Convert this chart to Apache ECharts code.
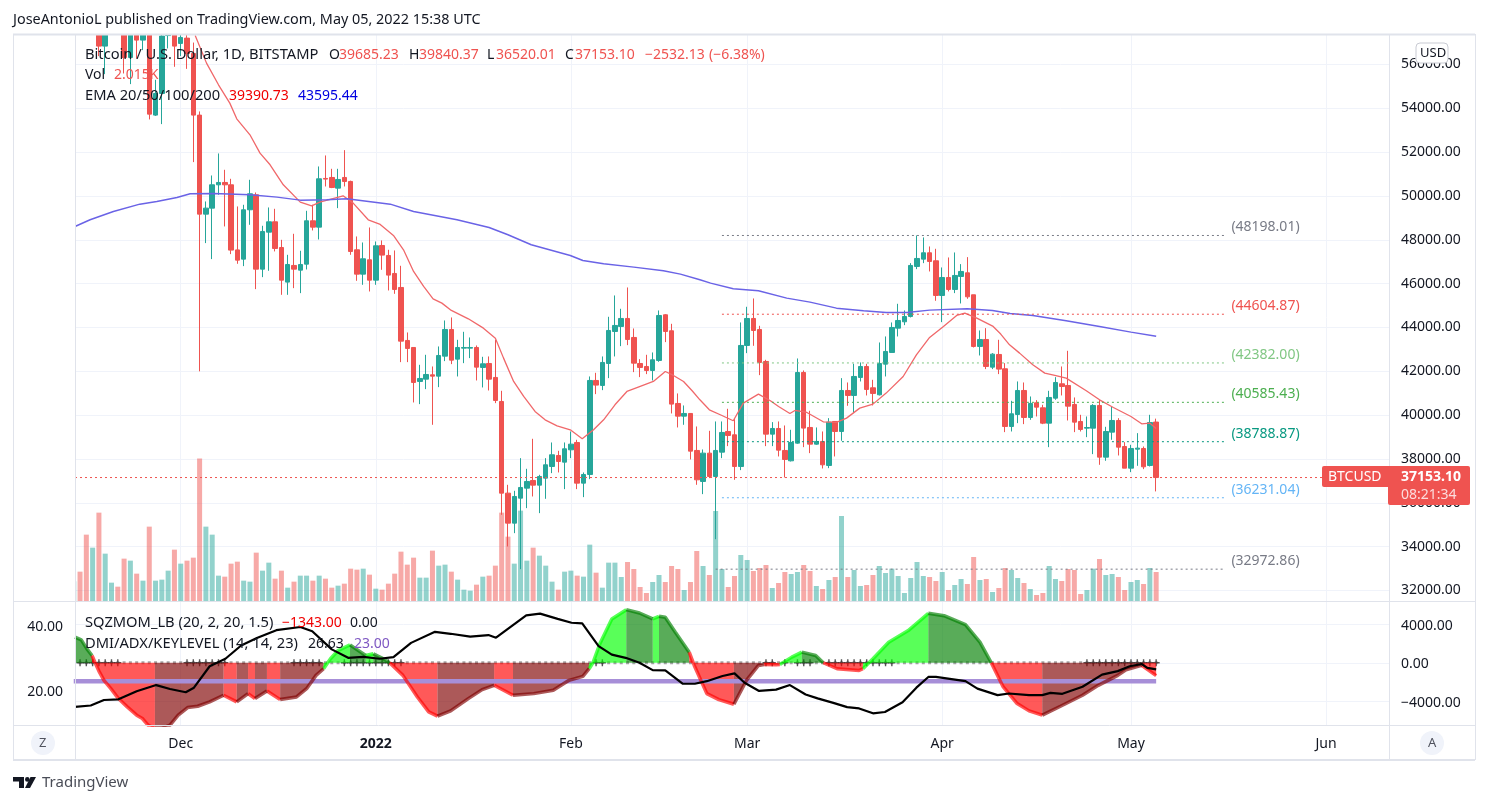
<!DOCTYPE html>
<html>
<head>
<meta charset="utf-8">
<title>BTCUSD</title>
<style>
html,body{margin:0;padding:0;background:#fff;}
#main{width:1488px;height:804px;}
</style>
<script src="https://cdn.jsdelivr.net/npm/echarts@6/dist/echarts.min.js"></script>
</head>
<body>
<div id="main"></div>
<script>
// day numbers count from 14 Nov 2021 (day 0), one candle per day up to 5 May 2022 (day 172)
var opens = [
64400,65500,63600,60100,60400,56838,58100,59700,58700,56321,57500,57112,58900,53690,54678,57320,57800,56960,57203,56504,
53690,49172,49446,50510,50617,50510,47540,47119,49370,50054,46662,48350,48822,47650,46070,46830,46617,46890,48868,48579,
50800,50845,50358,50845,50663,47545,46434,47088,46160,47742,47286,46465,45826,43408,43088,41537,41643,41840,41780,42693,
43910,42556,43058,43058,43088,42176,42358,41720,40624,36441,35073,36213,36670,37020,36806,37126,37658,38160,37856,38419,
38753,36898,37293,41583,41355,42358,43818,44047,44412,43545,42358,42221,42039,42495,44579,43849,40533,39955,40077,38389,
36974,38267,37202,38312,39255,39103,37658,43180,44412,43910,42450,39134,39392,38389,37917,38723,41947,39438,38677,38800,
37704,39712,39255,41126,40898,41720,42221,41248,40929,42328,42860,43970,44260,44503,46784,47119,47408,47043,45461,46282,
45735,46328,46495,45492,43134,43453,42191,42769,42115,39483,40031,41126,39894,40563,40335,39635,40776,41430,41354,40487,
39711,39407,39407,40442,38084,39225,39757,38570,37582,38449,38479,37704,39685.23];
var closes = [
65500,63600,60100,60400,56838,58100,59700,58700,56321,57500,57112,58900,53735,54678,57300,57800,56838,57234,56504,53690,
49172,49446,50510,50617,50510,47530,47073,49370,50100,46662,48381,48822,47605,46160,46875,46662,46875,48868,48579,50784,
50770,50389,50754,50663,47468,46434,47134,46160,47727,47302,46389,45735,43377,43043,41491,41674,41856,41780,42723,43910,
42510,43088,43088,43088,42191,42343,41643,40670,36441,35073,36289,36700,36974,36806,37202,37734,38191,37886,38464,38677,
36898,37293,41583,41370,42404,43864,44092,44412,43453,42373,42176,42039,42525,44548,43818,40503,39955,40077,38358,37050,
38267,37202,38389,39210,39073,37658,43180,44412,43864,42404,39134,39392,38404,37978,38753,41947,39408,38677,38800,37734,
39681,39255,41126,40898,41765,42221,41172,40990,42358,42906,44001,44320,44503,46830,47149,47408,47012,45461,46282,45735,
46374,46556,45400,43134,43453,42221,42784,42100,39483,40061,41126,39894,40533,40365,39635,40807,41491,41308,40411,39681,
39346,39437,40442,38084,39255,39757,38540,37582,38479,38495,37643,39665,37153.10];
var lows = [
63600,63400,58600,58400,56382,55560,57900,57900,55590,55104,56275,56655,53492,53650,53279,56732,55895,56382,55800,51545,
42000,47850,47120,50054,48610,47347,46906,46800,48685,45750,46297,46587,47470,45490,45490,45795,45567,46647,48427,48016,
50434,50358,49446,50434,47316,46130,45947,45643,45947,46632,45689,45537,42419,42419,40579,40503,41187,39560,41278,42465,
42328,41765,42373,42602,41583,41263,41126,40548,35453,34008,34616,32973,35757,36289,35529,36183,37354,37385,36624,38038,
36624,36259,37080,40959,41141,41689,42678,43149,43195,41963,41735,41872,41583,42434,43332,40077,39438,39560,37978,36822,
36396,37126,34340,38039,38586,37050,37491,42830,43164,41826,38586,38586,38115,37157,37887,38692,38540,38267,38647,37567,
37582,38115,38830,40427,40092,41537,40898,40442,40898,41765,42860,43590,44107,44457,46663,46936,46556,45218,44244,45644,
45568,45096,45309,43088,42723,42100,42100,41872,39225,39255,39635,39590,39787,39940,39590,38540,40700,40898,39757,39225,
39255,38996,38221,37734,37917,38875,38160,37582,37399,37688,37537,37658,36520.01];
var highs = [
65900,66300,63600,60800,60900,58400,60000,60000,59100,57900,58000,59400,59100,55300,57500,58800,59100,59000,57600,57000,
53857,49750,50936,51940,51195,50784,49522,49598,50739,50160,48640,49476,49415,48000,47316,48275,47500,49324,49598,51347,
51849,51240,51240,52092,50700,48153,47879,48563,47925,47971,47545,47514,46815,43773,43088,42297,42754,42221,43134,44320,
44457,43438,43803,43545,43180,42662,42678,43438,41111,36822,36548,38038,37552,38921,37278,38038,38753,38373,38753,39255,
38875,37385,41765,41932,42678,44488,45461,44853,45826,43955,42556,42754,42860,44777,44610,44168,40990,40442,40077,39483,
38434,39286,39712,39712,40290,39833,44229,44944,45324,44077,42526,39682,39712,39529,39331,42586,42039,40199,39438,39255,
39864,39712,41689,41491,42343,42404,42343,41613,43316,43590,44229,45081,44777,46936,48198.01,48108,47697,47590,46739,47195,
47423,46891,47210,45492,43864,43970,42830,43438,42373,40654,41537,41491,40852,40685,40472,41111,41734,42221,42936,40807,
40016,39940,40502,40700,39468,40380,39863,38768,38647,39179,38570,40016,39840.37];
var volumes = [
1367,2039,4611,3707,6140,3290,1274,996,2943,2804,1900,1413,5167,1413,1483,2108,3568,2595,2804,3012,
9894,5167,4611,1761,1691,2595,2734,1413,1344,3360,2108,2665,1552,2108,927,1344,1761,1761,1413,1761,
1552,927,1066,1205,2247,2178,2247,1830,857,788,1205,1900,3429,2526,3012,1622,1622,3499,2456,2526,
2039,1483,788,718,1135,1691,1761,2456,6140,4472,2595,6279,2804,3707,3151,2456,1344,788,2039,2108,
1761,1691,3916,1969,927,2665,2665,1668,2711,2224,973,556,1321,1807,1321,2433,2224,765,1321,3476,
2433,1807,6256,2224,973,1738,3197,2850,2085,2294,2502,904,1251,2016,1877,2016,2502,2085,1043,834,
1460,1668,5908,1668,2155,1043,1112,1807,2433,1946,2247,1738,556,1599,2711,1738,1668,1390,2016,765,
1112,1529,1182,3058,1460,1529,626,904,2294,2155,1599,1251,834,417,556,2433,1529,1390,2224,2155,
487,765,2247,2919,1807,1877,1668,765,1321,1460,1182,2294,2015];

// [day, value] vertices
var ema20 = [[19.3,57325],[21.1,56062],[23,55073],[24.8,54237],[25.9,53522],[28,52792],[29.6,51955],[31.2,51423],[33.3,50510],[36,49720],[37.8,49552],[39.1,49720],[42.8,50009],[44.4,49674],[46.8,48913],[48.7,48700],[50.8,48199],[52.4,47545],[54,46556],[55.6,45872],[57.1,45309],[58.5,45111],[60,44777],[62.7,44396],[65.1,43970],[67,43514],[68.3,42602],[69.9,41537],[71.5,40853],[73.3,40168],[74.9,39788],[76.8,39514],[78.9,39332],[80.8,38921],[82.6,39332],[84.2,39788],[86,40472],[87.9,41081],[89.7,41278],[92.1,41537],[94,41993],[95.3,41811],[96.9,41537],[98.3,41100],[99.5,40700],[101,40244],[103,39985],[104.8,39743],[106.4,40548],[108.8,40959],[110.7,40655],[112,40396],[113.8,40077],[114.6,40214],[116.5,40123],[119.1,39697],[121.2,39666],[122.8,39864],[124.9,40320],[127,40503],[129.1,41005],[131.8,41765],[133.9,42754],[136,43545],[138.2,44047],[140.3,44548],[141.6,44655],[143.5,44427],[146.1,44047],[147.3,43700],[148.7,43210],[150.3,42830],[152.4,42297],[154.3,41917],[155.9,41810],[157.7,41689],[160.9,41111],[163,40700],[165.2,40350],[168,39940],[169.7,39605],[171,39635],[172,39390.73]];
var ema200 = [[0.2,48609],[2.6,48913],[6.3,49294],[10.5,49628],[13.2,49750],[16.4,49933],[18.5,50100],[22.2,50115],[28,50054],[32.3,49948],[36,49811],[40.2,49826],[43.4,49872],[50.3,49628],[54,49294],[60.9,48914],[66,48564],[69,48229],[72.7,47773],[78.9,47286],[80.9,47058],[84.2,46906],[89,46754],[93.7,46587],[96.4,46435],[99.5,46176],[101.2,46024],[104.8,45765],[108.8,45674],[113.3,45340],[117,45157],[121.2,44883],[125.5,44761],[129.1,44685],[132.4,44685],[136,44792],[142,44853],[146,44777],[148.8,44640],[152.4,44548],[157.7,44305],[163,44046],[168,43788],[172,43595.44]];

// squeeze momentum, split by colour of the histogram; null breaks a run
var momLime = [[39.7,-623],[40.8,415],[42,1280],[43.9,1868],[43.9,null],[46.4,761],[47.6,934],[47.6,null],[81.9,-623],[82.5,0],[83.6,1972],[85.5,4567],[87.8,5536],[87.8,null],[92,4567],[93,4844],[93,null],[112.2,-173],[114.1,588],[115.7,1107],[115.7,null],[125.4,-623],[127,415],[129.5,2145],[132.6,3356],[135.8,5155]];
var momGreen = [[0.2,2664],[1.2,2387],[2.1,1453],[2.9,761],[2.9,null],[43.9,1868],[46.4,761],[46.4,null],[47.6,934],[48.9,519],[50.2,0],[50.2,null],[87.8,5536],[89.9,5190],[92,4567],[92,null],[93,4844],[94,4740],[95.6,3183],[97.8,1107],[97.8,null],[115.7,1107],[117.9,761],[119.1,0],[119.1,null],[135.8,5155],[138.3,4913],[141.7,3979],[144,2145],[145.8,0]];
var momRed = [[2.9,761],[3.4,0],[4,-865],[4.8,-1834],[5.9,-2699],[7.1,-3737],[8.5,-4602],[10,-5467],[10.9,-5813],[11.8,-6505],[12.9,-6851],[12.9,null],[23.8,-3391],[25.9,-4083],[25.9,null],[27.7,-3218],[28.8,-3737],[28.8,null],[30.7,-2941],[32.8,-3841],[32.8,null],[50.2,0],[52.3,-1315],[54.6,-3564],[56.4,-5121],[57.8,-5571],[57.8,null],[66.8,-2353],[69.8,-3391],[69.8,null],[97.8,1107],[98.6,-277],[100.6,-3218],[102.5,-3841],[104.9,-4325],[104.9,null],[109.7,-173],[111.6,-200],[112.2,-173],[112.2,null],[119.1,0],[121.3,-623],[124.8,-796],[125.4,-623],[125.4,null],[145.8,0],[147.7,-2526],[149.9,-4256],[151.8,-5017],[153.9,-5467],[153.9,null],[169.7,-277],[172,-1343]];
var momMaroon = [[12.9,-6851],[14,-6851],[15.3,-6505],[16.6,-5467],[18.1,-4671],[19.7,-4533],[21.6,-4083],[23.8,-3391],[23.8,null],[25.9,-4083],[27.7,-3218],[27.7,null],[28.8,-3737],[30.7,-2941],[30.7,null],[32.8,-3841],[35.4,-3564],[37,-2699],[38.5,-1315],[39.7,-623],[39.7,null],[57.8,-5571],[59.9,-5017],[62.7,-3737],[64.9,-2803],[66.8,-2353],[66.8,null],[69.8,-3391],[73.1,-3218],[76.2,-2872],[78.7,-1834],[80.9,-1419],[81.9,-623],[81.9,null],[104.9,-4325],[106.9,-1834],[108.8,-277],[109.7,-173],[109.7,null],[153.9,-5467],[156.8,-4533],[160.3,-3391],[162.8,-2353],[165.9,-1315],[167.2,-727],[169.7,-277]];

// ADX, read against the left axis of the lower pane
var adx = [[0.2,15.1],[2.7,15.5],[4.8,17.2],[7.1,17.4],[10,19.9],[13.1,21.8],[15.3,20.6],[17.8,19.6],[19.1,21],[21.6,27.6],[24.1,29.9],[26.6,34],[29.1,36.3],[32.2,38.7],[36,39.7],[37.9,38.4],[41,32.8],[43.6,30.2],[46,30.5],[48.6,29.9],[50.8,30.4],[53.6,34.8],[57.4,38.2],[59.9,37.6],[63,36.7],[65.9,37.2],[67.1,36.4],[71.9,43.3],[74.1,43.8],[76.9,42.2],[79.1,41],[80.8,40.8],[83.4,33.8],[85.5,31.2],[87.7,30.2],[89.9,28.7],[92,26.4],[94,26.3],[96.8,22.2],[98.7,22.2],[100.6,23],[103.1,24.6],[105,25.4],[106.6,22.5],[108.9,20],[111.6,20.4],[113.8,21.8],[116.3,18.9],[118.2,17.7],[120.7,16.3],[122.9,15],[124.8,14.6],[127,13.1],[128.9,13.5],[131.7,16.5],[133.9,21],[135.8,24.3],[137,24.3],[141.7,23],[143.6,20.7],[146.8,18.7],[148.6,19.2],[151.8,18.7],[153.9,18.7],[155.2,19.4],[157.1,19.1],[160.3,21.3],[163.4,25],[165.9,26.1],[167.8,27.6],[169.7,28.3],[170.6,27.1],[172,26.63]];
var keyLevel = [[0,23],[172,23]];

// days when the squeeze is on (black crosses on the zero line)
var squeezeDays = [0,1,2,3,4,5,6,7,18,19,20,21,22,23,24,35,36,37,38,39,43,44,45,46,47,48,49,50,51,52,83,84,110,111,113,115,116,117,120,121,122,123,124,125,126,127,128,129,130,161,162,163,164,165,166,167,168,169,170,171,172];

// horizontal levels drawn to the right of the chart
var levelValues = [48198.01,44604.87,42382.00,40585.43,38788.87,36231.04,32972.86];
var levelLabels = ['(48198.01)','(44604.87)','(42382.00)','(40585.43)','(38788.87)','(36231.04)','(32972.86)'];
var levelColors = ['#787b86','#ef5350','#81c784','#4caf50','#089981','#64b5f6','#787b86'];
var levelStart = [103,103,103,103,103,103,102];
var levelEnd = 183;

var lastPrice = 37153.10;
var priceTicks = [32000,34000,36000,38000,40000,42000,44000,46000,48000,50000,52000,54000,56000];
var momTicks = [-4000,0,4000];
var adxTicks = [20,40];
var monthDays = [17,48,79,107,138,168,199];
var monthLabels = ['Dec','2022','Feb','Mar','Apr','May','Jun'];

var UP = '#26a69a', DOWN = '#ef5350';
var FONT = '"Noto Sans", sans-serif';
var TXT = '#131722';

var candleData = opens.map(function (o, i) { return [i, o, closes[i], lows[i], highs[i]]; });
var volumeData = volumes.map(function (v, i) { return [i, v]; });
var zeroDots = opens.map(function (o, i) { return [i, 0]; });
var crossData = squeezeDays.map(function (d) { return [d, 0]; });

function momSeries(name, data, color) {
    return {
        name: name, type: 'line', xAxisIndex: 1, yAxisIndex: 2, data: data,
        showSymbol: false, symbol: 'none', connectNulls: false, silent: true,
        lineStyle: {color: color, width: 3.5},
        areaStyle: {color: color, opacity: 1, origin: 0}
    };
}

var levelSeries = [];
levelValues.forEach(function (v, i) {
    levelSeries.push({
        type: 'line', data: [[levelStart[i], v], [levelEnd, v]],
        symbol: 'none', silent: true, z: 3,
        lineStyle: {color: levelColors[i], width: 1, type: [2, 3]},
        endLabel: {
            show: true, formatter: levelLabels[i], color: levelColors[i],
            fontFamily: FONT, fontSize: 14, distance: 6, offset: [0, -8]
        }
    });
});

// texts on top of the panes
function t(text, x, y, color, size, weight) {
    return {
        type: 'text', x: x, y: y + 1, z: 50, silent: true,
        style: {text: text, fill: color || TXT, font: (weight || 'normal') + ' ' + (size || 14) + 'px ' + FONT, textVerticalAlign: 'middle'}
    };
}
function hline(x1, x2, y, w) {
    return {type: 'line', z: 40, silent: true, shape: {x1: x1, y1: y, x2: x2, y2: y}, style: {stroke: '#e0e3eb', lineWidth: w || 1}};
}
function vline(x, y1, y2) {
    return {type: 'line', z: 40, silent: true, shape: {x1: x, y1: y1, x2: x, y2: y2}, style: {stroke: '#e0e3eb', lineWidth: 1}};
}

var graphics = [
    // candles are not cut by the grid, so the margins are painted over them
    {type: 'rect', z: 30, silent: true, shape: {x: 0, y: 0, width: 1488, height: 34}, style: {fill: '#fff'}},
    {type: 'rect', z: 30, silent: true, shape: {x: 14, y: 34, width: 61, height: 567}, style: {fill: '#fff'}},

    t('JoseAntonioL published on TradingView.com, May 05, 2022 15:38 UTC', 13, 19, TXT, 14.4),
    hline(13, 1475, 34.5, 2), hline(13, 1475, 760, 2), vline(13.5, 34, 760), vline(1475.5, 34, 760),
    hline(13, 1475, 601.5), hline(13, 1475, 725.5), vline(75.5, 34, 760), vline(1389.5, 34, 760),

    t('Bitcoin / U.S. Dollar, 1D, BITSTAMP', 85, 54, TXT, 14.7),
    t('O', 329, 54, TXT), t('39685.23', 339, 54, DOWN),
    t('H', 409, 54, TXT), t('39840.37', 419, 54, DOWN),
    t('L', 487, 54, TXT), t('36520.01', 496, 54, DOWN),
    t('C', 565, 54, TXT), t('37153.10', 575, 54, DOWN),
    t('\u22122532.13', 645, 54, DOWN), t('(\u22126.38%)', 709, 54, DOWN),
    t('Vol', 85, 74, TXT), t('2.015K', 114, 74, DOWN),
    t('EMA 20/50/100/200', 85, 95, TXT, 14.7), t('39390.73', 229, 95, '#f00000'), t('43595.44', 298, 95, '#0000e0'),
    t('SQZMOM_LB (20, 2, 20, 1.5)', 85, 622, TXT, 14.7), t('\u22121343.00', 282, 622, '#f00000'), t('0.00', 350, 622, TXT),
    t('DMI/ADX/KEYLEVEL (14, 14, 23)', 85, 643, TXT, 14.7), t('26.63', 308, 643, TXT), t('23.00', 354, 643, '#7e57c2'),

    // USD button
    {type: 'rect', z: 45, silent: true, shape: {x: 1416, y: 43, width: 32, height: 20, r: 4}, style: {fill: '#fff', stroke: '#c9cbd3', lineWidth: 1}},
    t('USD', 1420, 52, TXT, 13),

    // last price tag
    {type: 'rect', z: 45, silent: true, shape: {x: 1322, y: 466, width: 70, height: 21, r: [2, 0, 0, 2]}, style: {fill: DOWN}},
    {type: 'rect', z: 45, silent: true, shape: {x: 1388, y: 466, width: 82, height: 39, r: [0, 2, 2, 2]}, style: {fill: DOWN}},
    t('BTCUSD', 1328, 476, '#fff', 14, 'normal'),
    t('37153.10', 1401, 476, '#fff', 14, 'bold'),
    t('08:21:34', 1401, 494, '#fcdcdc', 14, 'normal'),

    // Z and A round buttons
    {type: 'circle', z: 45, silent: true, shape: {cx: 43, cy: 743, r: 12}, style: {fill: '#f0f3fa'}},
    t('Z', 39, 742, '#50535e', 13),
    {type: 'circle', z: 45, silent: true, shape: {cx: 1432, cy: 743, r: 12}, style: {fill: '#f0f3fa'}},
    t('A', 1428, 742, '#50535e', 13),

    // footer logo
    {type: 'polygon', z: 45, silent: true, shape: {points: [[13, 777], [24, 777], [24, 788], [19, 788], [19, 781.5], [13, 781.5]]}, style: {fill: '#131722'}},
    {type: 'circle', z: 45, silent: true, shape: {cx: 27.3, cy: 779.4, r: 2.3}, style: {fill: '#131722'}},
    {type: 'polygon', z: 45, silent: true, shape: {points: [[30.5, 777], [36, 777], [30, 788], [25, 788]]}, style: {fill: '#131722'}},
    t('TradingView', 42, 782, '#4a4d57', 15)
];

// lower pane labels sit a little under their grid lines
var lowLabelRich = {a: {fontSize: 14, color: TXT, fontFamily: FONT, padding: [3, 0, 0, 0]}};

var option = {
    animation: false,
    backgroundColor: '#fff',
    textStyle: {fontFamily: FONT},
    graphic: graphics,
    grid: [
        {left: 75, right: 99, top: 34, height: 567},
        {left: 75, right: 99, top: 601, height: 124}
    ],
    xAxis: [
        {
            type: 'value', gridIndex: 0, min: 0.2, max: 209, position: 'bottom',
            axisLine: {show: false}, axisTick: {show: false, customValues: monthDays},
            axisLabel: {show: false, customValues: monthDays},
            splitLine: {show: true, lineStyle: {color: '#f0f3fa'}}
        },
        {
            type: 'value', gridIndex: 1, min: 0.2, max: 209, position: 'bottom',
            axisLine: {show: false}, axisTick: {show: false, customValues: monthDays},
            axisLabel: {
                customValues: monthDays, margin: 12, fontSize: 14, color: TXT, fontFamily: FONT,
                formatter: function (v) {
                    var s = monthLabels[monthDays.indexOf(v)];
                    return s === '2022' ? '{b|' + s + '}' : s;
                },
                rich: {b: {fontWeight: 'bold', fontSize: 14, color: TXT, fontFamily: FONT}}
            },
            splitLine: {show: true, lineStyle: {color: '#f0f3fa'}}
        }
    ],
    yAxis: [
        {
            type: 'value', gridIndex: 0, position: 'right', min: 31520, max: 57391, scale: true,
            axisLine: {show: false}, axisTick: {show: false, customValues: priceTicks},
            axisLabel: {customValues: priceTicks, margin: 12, fontSize: 14, color: TXT, fontFamily: FONT,
                formatter: function (v) { return v.toFixed(2); }},
            splitLine: {show: true, lineStyle: {color: '#f0f3fa'}}
        },
        {
            type: 'value', gridIndex: 0, show: false, min: 0, max: 39400, splitLine: {show: false}
        },
        {
            type: 'value', gridIndex: 1, position: 'right', min: -6490, max: 6440,
            axisLine: {show: false}, axisTick: {show: false, customValues: momTicks},
            axisLabel: {customValues: momTicks, margin: 12, rich: lowLabelRich,
                formatter: function (v) { return '{a|' + (v < 0 ? '\u2212' + (-v).toFixed(2) : v.toFixed(2)) + '}'; }},
            splitLine: {show: true, lineStyle: {color: '#f0f3fa'}}
        },
        {
            type: 'value', gridIndex: 1, position: 'left', min: 9.5, max: 47.7,
            axisLine: {show: false}, axisTick: {show: false, customValues: adxTicks},
            axisLabel: {customValues: adxTicks, margin: 12, rich: lowLabelRich,
                formatter: function (v) { return '{a|' + v.toFixed(2) + '}'; }},
            splitLine: {show: false}
        }
    ],
    series: [
        {
            name: 'Vol', type: 'bar', xAxisIndex: 0, yAxisIndex: 1, data: volumeData, barWidth: 5, silent: true,
            itemStyle: {
                color: function (p) { return closes[p.dataIndex] >= opens[p.dataIndex] ? 'rgba(38,166,154,0.5)' : 'rgba(239,83,80,0.5)'; }
            }
        },
        {
            name: 'BTCUSD', type: 'candlestick', xAxisIndex: 0, yAxisIndex: 0, data: candleData, barWidth: 5,
            encode: {x: 0, y: [1, 2, 3, 4]}, silent: true, z: 2,
            itemStyle: {color: UP, color0: DOWN, borderColor: UP, borderColor0: DOWN, borderWidth: 1}
        },
        {
            name: 'EMA 20', type: 'line', xAxisIndex: 0, yAxisIndex: 0, data: ema20, symbol: 'none', silent: true, z: 3,
            lineStyle: {color: '#f0686a', width: 1.3}
        },
        {
            name: 'EMA 200', type: 'line', xAxisIndex: 0, yAxisIndex: 0, data: ema200, symbol: 'none', silent: true, z: 3,
            lineStyle: {color: '#6a63e6', width: 1.5}
        },
        {
            name: 'Last', type: 'line', xAxisIndex: 0, yAxisIndex: 0, data: [[0.2, lastPrice], [209, lastPrice]], symbol: 'none', silent: true, z: 3,
            lineStyle: {color: DOWN, width: 1, type: [2, 3]}
        }
    ].concat(levelSeries).concat([
        {
            name: 'KEYLEVEL', type: 'line', xAxisIndex: 1, yAxisIndex: 3, data: keyLevel, symbol: 'none', silent: true,
            lineStyle: {color: '#a78fd8', width: 4.5}
        },
        momSeries('lime', momLime, 'rgba(0,255,0,0.65)'),
        momSeries('green', momGreen, 'rgba(0,128,0,0.65)'),
        momSeries('red', momRed, 'rgba(255,0,0,0.65)'),
        momSeries('maroon', momMaroon, 'rgba(128,0,0,0.65)'),
        {
            name: 'zero', type: 'scatter', xAxisIndex: 1, yAxisIndex: 2, data: zeroDots, symbol: 'rect', symbolSize: 3, silent: true,
            itemStyle: {color: '#8c8c8c'}
        },
        {
            name: 'squeeze', type: 'scatter', xAxisIndex: 1, yAxisIndex: 2, data: crossData, silent: true,
            symbol: 'path://M2 0H3V2H5V3H3V5H2V3H0V2H2Z', symbolSize: 7,
            itemStyle: {color: '#2a2a2a'}
        },
        {
            name: 'ADX', type: 'line', xAxisIndex: 1, yAxisIndex: 3, data: adx, symbol: 'none', silent: true, z: 4,
            lineStyle: {color: '#000', width: 2.2}
        }
    ])
};

var chart = echarts.init(document.getElementById('main'), null, {renderer: 'canvas', width: 1488, height: 804});
chart.setOption(option);
</script>
</body>
</html>
